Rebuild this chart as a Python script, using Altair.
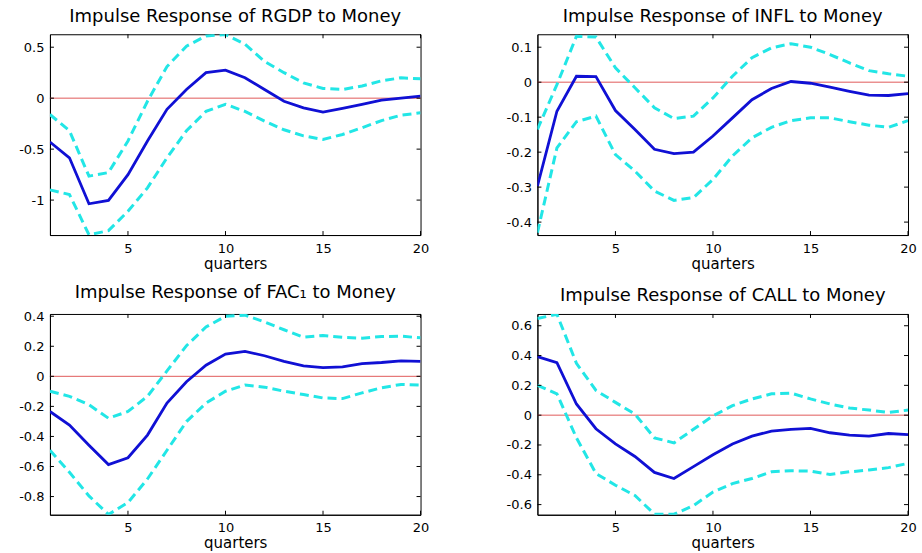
import altair as alt
import pandas as pd

quarters = list(range(1, 21))

# RGDP
rgdp_resp = [-0.43, -0.585, -1.036, -1.003, -0.75, -0.42, -0.11, 0.085, 0.25, 0.275,
             0.2, 0.085, -0.03, -0.095, -0.137, -0.10, -0.06, -0.02, 0.0, 0.02]
rgdp_upper = [-0.16, -0.32, -0.765, -0.73, -0.42, -0.03, 0.31, 0.51, 0.61, 0.625,
              0.53, 0.36, 0.25, 0.15, 0.095, 0.085, 0.12, 0.17, 0.2, 0.19]
rgdp_lower = [-0.9, -0.945, -1.34, -1.30, -1.11, -0.88, -0.585, -0.32, -0.13, -0.06,
              -0.13, -0.225, -0.31, -0.37, -0.405, -0.356, -0.29, -0.22, -0.167, -0.144]

# INFL
infl_resp = [-0.297, -0.083, 0.017, 0.016, -0.081, -0.135, -0.192, -0.204, -0.20, -0.154,
             -0.102, -0.05, -0.018, 0.002, -0.003, -0.014, -0.026, -0.037, -0.038, -0.033]
infl_upper = [-0.135, -0.007, 0.131, 0.129, 0.041, -0.016, -0.073, -0.104, -0.097, -0.045,
              0.017, 0.07, 0.098, 0.11, 0.1, 0.079, 0.055, 0.033, 0.024, 0.017]
infl_lower = [-0.43, -0.188, -0.113, -0.097, -0.207, -0.254, -0.311, -0.338, -0.33, -0.278,
              -0.211, -0.159, -0.129, -0.11, -0.102, -0.102, -0.113, -0.123, -0.129, -0.11]

# FAC1
fac_resp = [-0.234, -0.324, -0.458, -0.587, -0.542, -0.391, -0.178, -0.036, 0.074, 0.148,
            0.166, 0.137, 0.099, 0.07, 0.058, 0.063, 0.085, 0.092, 0.103, 0.099]
fac_upper = [-0.099, -0.133, -0.189, -0.279, -0.234, -0.133, 0.036, 0.204, 0.328, 0.4,
             0.407, 0.362, 0.31, 0.26, 0.272, 0.26, 0.254, 0.265, 0.267, 0.256]
fac_lower = [-0.492, -0.638, -0.796, -0.919, -0.84, -0.683, -0.492, -0.301, -0.178, -0.099,
             -0.058, -0.072, -0.099, -0.121, -0.144, -0.148, -0.11, -0.076, -0.054, -0.058]

# CALL
call_resp = [0.393, 0.352, 0.075, -0.091, -0.193, -0.277, -0.384, -0.425, -0.345, -0.266,
             -0.193, -0.141, -0.107, -0.095, -0.089, -0.118, -0.134, -0.141, -0.123, -0.13]
call_upper = [0.648, 0.677, 0.348, 0.166, 0.086, 0.007, -0.152, -0.186, -0.095, -0.005,
              0.064, 0.109, 0.143, 0.148, 0.109, 0.075, 0.048, 0.034, 0.018, 0.034]
call_lower = [0.2, 0.143, -0.152, -0.391, -0.47, -0.539, -0.664, -0.664, -0.607, -0.516,
              -0.459, -0.425, -0.38, -0.373, -0.375, -0.398, -0.38, -0.368, -0.352, -0.323]

titles = ["Impulse Response of RGDP to Money", "Impulse Response of INFL to Money",
          "Impulse Response of FAC\u2081 to Money", "Impulse Response of CALL to Money"]
domains = [[-1.343, 0.627], [-0.437, 0.137], [-0.921, 0.415], [-0.668, 0.679]]
yticks = [[-1, -0.5, 0, 0.5],
          [-0.4, -0.3, -0.2, -0.1, 0, 0.1],
          [-0.8, -0.6, -0.4, -0.2, 0, 0.2, 0.4],
          [-0.6, -0.4, -0.2, 0, 0.2, 0.4, 0.6]]
xticks = [5, 10, 15, 20]

FONT = "DejaVu Sans"
CYAN = "#22e6e6"
BLUE = "#1010d4"
RED = "#e05a5a"
FRAME = "black"
W, H = 371, 201


def panel(title, resp, upper, lower, domain, ytv):
    df = pd.DataFrame({
        "q": quarters * 3,
        "v": resp + upper + lower,
        "s": ["resp"] * 20 + ["upper"] * 20 + ["lower"] * 20,
    })
    xenc = alt.X("q:Q", scale=alt.Scale(domain=[1, 20], nice=False, zero=False),
                 axis=alt.Axis(values=xticks, title="quarters", labelFlush=False,
                               labelPadding=7, titlePadding=1))
    yenc = alt.Y("v:Q", scale=alt.Scale(domain=domain, nice=False, zero=False),
                 axis=alt.Axis(values=ytv, title=None, labelFlush=False,
                               labelPadding=6, labelExpr="'' + datum.value"))
    zero = alt.Chart(pd.DataFrame({"v": [0]})).mark_rule(color=RED, strokeWidth=1).encode(y=yenc)
    bands = alt.Chart(df).transform_filter("datum.s != 'resp'").mark_line(
        color=CYAN, strokeWidth=3, strokeDash=[9, 5], clip=True
    ).encode(x=xenc, y=yenc, detail="s:N")
    line = alt.Chart(df).transform_filter("datum.s == 'resp'").mark_line(
        color=BLUE, strokeWidth=2.8, clip=True
    ).encode(x=xenc, y=yenc)
    xt = alt.Chart(pd.DataFrame({"q": xticks}))
    yt = alt.Chart(pd.DataFrame({"v": ytv}))
    tb = xt.mark_rule(color=FRAME, strokeWidth=1).encode(x=xenc, y=alt.value(H), y2=alt.value(H - 4))
    tt = xt.mark_rule(color=FRAME, strokeWidth=1).encode(x=xenc, y=alt.value(0), y2=alt.value(4))
    tl = yt.mark_rule(color=FRAME, strokeWidth=1).encode(y=yenc, x=alt.value(0), x2=alt.value(4))
    tr = yt.mark_rule(color=FRAME, strokeWidth=1).encode(y=yenc, x=alt.value(W), x2=alt.value(W - 4))
    return alt.layer(zero, bands, line, tb, tt, tl, tr).properties(
        width=W, height=H,
        title=alt.TitleParams(text=title, font=FONT, fontSize=18, fontWeight="normal",
                              color="black", anchor="middle", baseline="bottom", offset=-10),
    )


panels = [
    panel(titles[0], rgdp_resp, rgdp_upper, rgdp_lower, domains[0], yticks[0]),
    panel(titles[1], infl_resp, infl_upper, infl_lower, domains[1], yticks[1]),
    panel(titles[2], fac_resp, fac_upper, fac_lower, domains[2], yticks[2]),
    panel(titles[3], call_resp, call_upper, call_lower, domains[3], yticks[3]),
]

chart = alt.concat(
    *panels, columns=2, spacing={"row": 79, "column": 117}, bounds="flush"
).properties(
    padding={"left": 18, "top": 7, "right": 5, "bottom": 0},
    background="white",
).configure_view(
    stroke=FRAME, strokeWidth=1
).configure_axis(
    domain=True, domainColor=FRAME, domainWidth=1, ticks=False, grid=False,
    labelFont=FONT, labelFontSize=13, labelColor="black",
    titleFont=FONT, titleFontSize=15, titleFontWeight="normal", titleColor="black",
)

chart.save("out.html", embed_options={"renderer": "svg", "actions": False})
